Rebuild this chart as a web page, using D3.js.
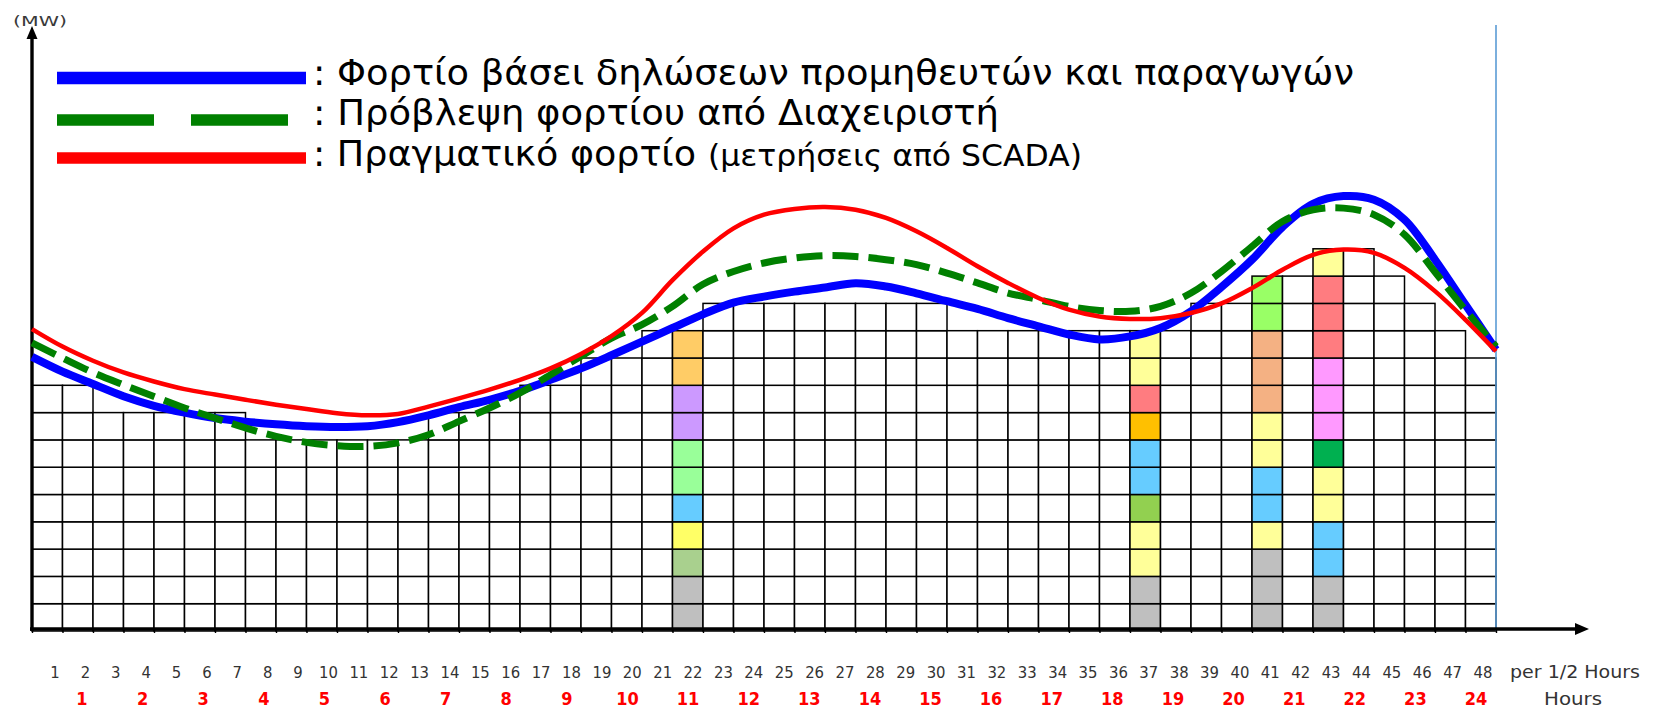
<!DOCTYPE html>
<html>
<head>
<meta charset="utf-8">
<script src="https://cdn.jsdelivr.net/npm/d3@7"></script>
<style>
  body { margin: 0; background: #fff; }
  svg { display: block; }
</style>
</head>
<body>
<div id="chart"></div>
<script>
// half-hour periods and hours shown under the axis
var halfHours = d3.range(1, 49);
var hours = d3.range(1, 25);

// number of grid cells stacked in each half-hour column
var cellCounts = [9,9,8,8,8,8,8,7,7,7,7,7,7,8,8,8,9,9,10,10,11,11,12,12,12,12,12,12,12,12,11,11,11,11,11,11,11,11,12,12,13,13,14,14,13,12,11,10];

// coloured columns, cells listed bottom to top
var col22 = ["#bfbfbf","#bfbfbf","#a9d08e","#ffff66","#66ccff","#99ff99","#99ff99","#cc99ff","#cc99ff","#ffcc66","#ffcc66"];
var col37 = ["#bfbfbf","#bfbfbf","#ffff99","#ffff99","#92d050","#66ccff","#66ccff","#ffc000","#ff7c80","#ffff99","#ffff99"];
var col41 = ["#bfbfbf","#bfbfbf","#bfbfbf","#ffff99","#66ccff","#66ccff","#ffff99","#ffff99","#f4b183","#f4b183","#f4b183","#99ff66","#99ff66"];
var col43 = ["#bfbfbf","#bfbfbf","#66ccff","#66ccff","#ffff99","#ffff99","#00b050","#ff99ff","#ff99ff","#ff99ff","#ff7c80","#ff7c80","#ff7c80","#ffff99"];

// load curves, in cell units, read at every half-hour boundary (0..48)
var declared = [10.04,9.5,9.05,8.6,8.25,8.0,7.8,7.67,7.57,7.5,7.47,7.5,7.65,7.9,8.2,8.47,8.8,9.2,9.62,10.1,10.6,11.1,11.6,12.03,12.25,12.43,12.58,12.74,12.62,12.37,12.08,11.8,11.46,11.16,10.86,10.68,10.79,11.1,11.71,12.6,13.6,14.8,15.65,15.93,15.8,15.07,13.6,11.95,10.3];
var forecast = [10.55,10.0,9.47,9.02,8.59,8.17,7.8,7.44,7.13,6.91,6.79,6.76,6.89,7.19,7.68,8.17,8.72,9.39,10.06,10.73,11.22,11.89,12.7,13.17,13.48,13.66,13.75,13.72,13.6,13.42,13.11,12.75,12.38,12.14,11.89,11.74,11.71,11.89,12.38,13.17,14.09,15.0,15.43,15.49,15.25,14.52,13.15,11.75,10.42];
var actual = [11.06,10.42,9.9,9.47,9.14,8.86,8.66,8.47,8.29,8.13,7.98,7.9,7.95,8.22,8.52,8.84,9.2,9.62,10.15,10.8,11.65,12.85,13.9,14.75,15.25,15.46,15.53,15.43,15.13,14.64,14.03,13.36,12.75,12.2,11.77,11.52,11.43,11.46,11.65,12.0,12.56,13.23,13.78,13.97,13.85,13.3,12.45,11.4,10.25];

var seriesNames = [": Φορτίο βάσει δηλώσεων προμηθευτών και παραγωγών", ": Πρόβλεψη φορτίου από Διαχειριστή", ": Πραγματικό φορτίο"];
var seriesNote = "(μετρήσεις από SCADA)";

var width = 1653, height = 708;
var base = 631, cellH = 27.3;

var svg = d3.select("#chart").append("svg")
  .attr("width", width)
  .attr("height", height);

var x = d3.scaleLinear().domain([0, 48]).range([32, 1496]);
var y = d3.scaleLinear().domain([0, 20]).range([base, base - 20 * cellH]);

var colored = {22: col22, 37: col37, 41: col41, 43: col43};

//grid cells
var cells = [];
cellCounts.forEach(function(n, c) {
  for (var k = 0; k < n; k++) {
    var fill = colored[c + 1] ? colored[c + 1][k] : "#fff";
    cells.push({c: c, k: k, fill: fill});
  }
});

svg.append("g").selectAll("rect").data(cells).enter().append("rect")
  .attr("x", function(d){ return x(d.c); })
  .attr("y", function(d){ return y(d.k + 1); })
  .attr("width", function(d){ return x(d.c + 1) - x(d.c); })
  .attr("height", function(d){ return y(d.k) - y(d.k + 1); })
  .attr("fill", function(d){ return d.fill; })
  .attr("stroke", "#000")
  .attr("stroke-width", 1.5);

// light blue end-of-day line
svg.append("line")
  .attr("x1", x(48)).attr("x2", x(48))
  .attr("y1", 25).attr("y2", base)
  .attr("stroke", "#5b9bd5").attr("stroke-width", 1.6);

// x ticks
var xAxis = d3.axisBottom(x).tickValues(d3.range(0, 49)).tickSize(4).tickFormat("");
var xAxisGroup = svg.append("g").attr("transform", "translate(0,629)").call(xAxis);
xAxisGroup.select(".domain").remove();
xAxisGroup.selectAll("line").attr("stroke", "#000").attr("stroke-width", 1.4);

// axes with arrows
svg.append("line").attr("x1", 30).attr("x2", 1578).attr("y1", 629).attr("y2", 629)
  .attr("stroke", "#000").attr("stroke-width", 3.6);
svg.append("path").attr("d", "M1589,629 L1575,623 L1575,635 Z").attr("fill", "#000");
svg.append("line").attr("x1", 32).attr("x2", 32).attr("y1", 631).attr("y2", 36)
  .attr("stroke", "#000").attr("stroke-width", 3.4);
svg.append("path").attr("d", "M32,26 L26.5,39 L37.5,39 Z").attr("fill", "#000");

svg.append("text").attr("x", 13).attr("y", 26).text("(MW)")
  .attr("font-family", "Verdana, 'DejaVu Sans', sans-serif").attr("font-size", "14px")
  .attr("fill", "#3a3a3a").attr("textLength", 54).attr("lengthAdjust", "spacingAndGlyphs");

//curves
var line = d3.line()
  .x(function(d, i){ return x(i); })
  .y(function(d){ return y(d); })
  .curve(d3.curveCatmullRom.alpha(0.5));

svg.append("path").attr("d", line(declared)).attr("fill", "none")
  .attr("stroke", "#0000ff").attr("stroke-width", 8);
svg.append("path").attr("d", line(forecast)).attr("fill", "none")
  .attr("stroke", "#008000").attr("stroke-width", 7).attr("stroke-dasharray", "26,10");
svg.append("path").attr("d", line(actual)).attr("fill", "none")
  .attr("stroke", "#ff0000").attr("stroke-width", 4.5);

//legend
var legendFont = "'DejaVu Sans Condensed', 'DejaVu Sans', sans-serif";
svg.append("line").attr("x1", 57).attr("x2", 306).attr("y1", 78).attr("y2", 78)
  .attr("stroke", "#0000ff").attr("stroke-width", 12.5);
svg.append("line").attr("x1", 57).attr("x2", 288).attr("y1", 120).attr("y2", 120)
  .attr("stroke", "#008000").attr("stroke-width", 11.5).attr("stroke-dasharray", "97,37");
svg.append("line").attr("x1", 57).attr("x2", 306).attr("y1", 158).attr("y2", 158)
  .attr("stroke", "#ff0000").attr("stroke-width", 11.5);

var legendY = [85, 125, 166];
var legendW = [1041, 686, 383];
seriesNames.forEach(function(s, i) {
  svg.append("text").attr("x", 313).attr("y", legendY[i]).text(s)
    .attr("font-family", legendFont).attr("font-size", "35px").attr("fill", "#000")
    .attr("textLength", legendW[i]).attr("lengthAdjust", "spacingAndGlyphs");
});
svg.append("text").attr("x", 708).attr("y", 166).text(seriesNote)
  .attr("font-family", legendFont).attr("font-size", "30px").attr("fill", "#000")
  .attr("textLength", 374).attr("lengthAdjust", "spacingAndGlyphs");

// bottom labels
var labelFont = "'DejaVu Sans Condensed', 'DejaVu Sans', sans-serif";
var xHalf = d3.scalePoint().domain(halfHours).range([55, 1483]);
var xHour = d3.scalePoint().domain(hours).range([82, 1476]);

svg.append("g").selectAll("text").data(halfHours).enter().append("text")
  .attr("x", function(d){ return xHalf(d); })
  .attr("y", 678)
  .attr("text-anchor", "middle")
  .attr("font-family", labelFont).attr("font-size", "16.5px").attr("fill", "#333")
  .text(function(d){ return d; });

svg.append("g").selectAll("text").data(hours).enter().append("text")
  .attr("x", function(d){ return xHour(d); })
  .attr("y", 705)
  .attr("text-anchor", "middle")
  .attr("font-family", labelFont).attr("font-size", "18px").attr("font-weight", "bold").attr("fill", "#ff0000")
  .text(function(d){ return d; });

svg.append("text").attr("x", 1510).attr("y", 678).text("per 1/2 Hours")
  .attr("font-family", labelFont).attr("font-size", "18px").attr("fill", "#333")
  .attr("textLength", 130).attr("lengthAdjust", "spacingAndGlyphs");
svg.append("text").attr("x", 1544).attr("y", 705).text("Hours")
  .attr("font-family", labelFont).attr("font-size", "18px").attr("fill", "#333")
  .attr("textLength", 58).attr("lengthAdjust", "spacingAndGlyphs");
</script>
</body>
</html>
